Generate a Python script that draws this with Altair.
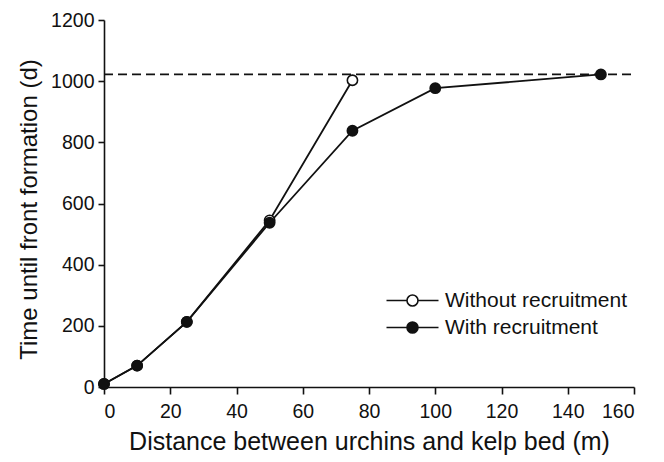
import altair as alt
import pandas as pd

# Time until a feeding front forms, by starting distance from the kelp bed
series_names = ["Without recruitment", "With recruitment"]

distance_without = [0, 10, 25, 50, 75]
time_without = [10, 70, 213, 545, 1003]

distance_with = [0, 10, 25, 50, 75, 100, 150]
time_with = [10, 70, 213, 537, 838, 977, 1022]

# Dashed reference level across the panel
ref_level = 1022
ref_span = [0, 160]

x_ticks = [0, 20, 40, 60, 80, 100, 120, 140, 160]
y_ticks = [0, 200, 400, 600, 800, 1000, 1200]

rows = []
for d, t in zip(distance_without, time_without):
    rows.append({"distance": d, "time": t, "series": series_names[0], "order": 0})
for d, t in zip(distance_with, time_with):
    rows.append({"distance": d, "time": t, "series": series_names[1], "order": 1})
df = pd.DataFrame(rows)

ref_df = pd.DataFrame({"x": [ref_span[0]], "x2": [ref_span[1]], "y": [ref_level]})

FONT = "Liberation Sans"
INK = "#111111"

x_enc = alt.X(
    "distance:Q",
    scale=alt.Scale(domain=[0, 160], nice=False, zero=False),
    axis=alt.Axis(
        values=x_ticks,
        format="d",
        title="Distance between urchins and kelp bed (m)",
        grid=False,
        labelPadding=8,
        titlePadding=9,
        titleFontSize=25,
    ),
)
y_enc = alt.Y(
    "time:Q",
    scale=alt.Scale(domain=[0, 1200], nice=False),
    axis=alt.Axis(
        values=y_ticks,
        format="d",
        title="Time until front formation (d)",
        grid=False,
        tickSize=6,
        labelPadding=4,
        titlePadding=9,
        titleFontSize=24,
        titleY=189,
    ),
)

lines = (
    alt.Chart(df)
    .mark_line(color=INK, strokeWidth=1.8)
    .encode(x=x_enc, y=y_enc, detail="series:N", order="distance:Q")
)

# Legend glyph: a short line with a circle in its middle
legend_path = "M-5.2,0H-1.1M1.1,0H5.2M-1.1,0A1.1,1.1,0,1,0,1.1,0A1.1,1.1,0,1,0,-1.1,0Z"

points = (
    alt.Chart(df)
    .mark_point(filled=False, shape="circle", size=105, stroke=INK, strokeWidth=1.6, opacity=1)
    .encode(
        x="distance:Q",
        y="time:Q",
        fill=alt.Fill(
            "series:N",
            scale=alt.Scale(domain=series_names, range=["white", INK]),
            sort=series_names,
            legend=alt.Legend(
                title=None,
                orient="none",
                legendX=298,
                legendY=270,
                symbolType=legend_path,
                symbolSize=100,
                symbolStrokeColor=INK,
                symbolStrokeWidth=1.6,
                symbolFillColor=INK,
                labelFont=FONT,
                labelFontSize=21,
                labelColor=INK,
                labelOffset=22,
                labelLimit=400,
                rowPadding=5,
            ),
        ),
        order="order:Q",
    )
)

ref_rule = (
    alt.Chart(ref_df)
    .mark_rule(color=INK, strokeWidth=1.8, strokeDash=[9, 5])
    .encode(x="x:Q", x2="x2:Q", y="y:Q")
)

chart = (
    alt.layer(ref_rule, lines, points)
    .properties(
        width=530,
        height=367,
        autosize=alt.AutoSizeParams(type="none"),
        padding={"left": 104, "top": 20, "right": 30, "bottom": 75},
        background="white",
    )
    .configure_view(stroke=None)
    .configure_axis(
        domainColor=INK,
        domainWidth=1.6,
        tickColor=INK,
        tickWidth=1.6,
        tickSize=7,
        labelFont=FONT,
        labelFontSize=19.5,
        labelColor=INK,
        titleFont=FONT,
        titleFontWeight="normal",
        titleColor=INK,
    )
)

chart.save("out.html", embed_options={"renderer": "svg", "actions": False})
